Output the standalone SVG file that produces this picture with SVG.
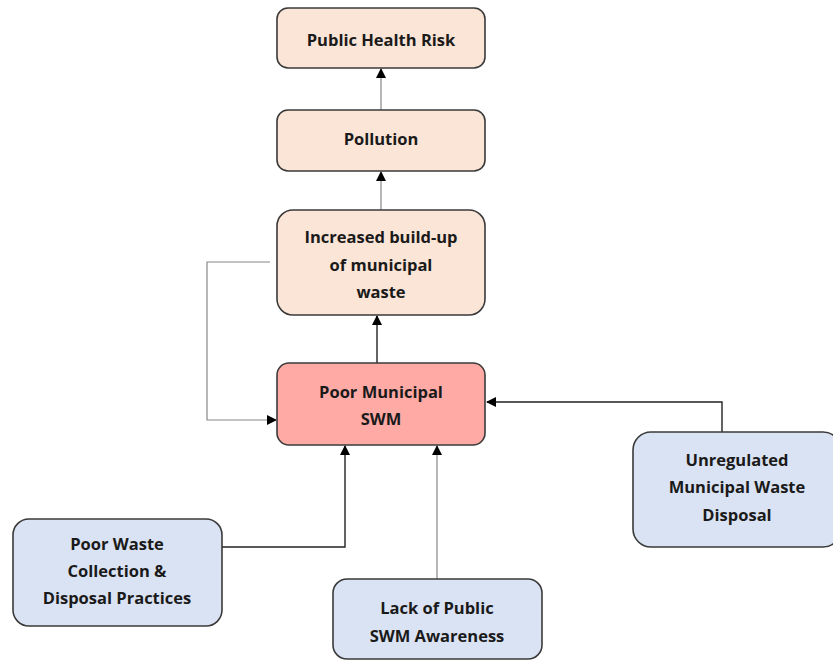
<svg xmlns="http://www.w3.org/2000/svg" width="833" height="660" viewBox="0 0 833 660">
<defs>
<marker id="arr" markerWidth="10" markerHeight="10" refX="9" refY="5" orient="auto" markerUnits="userSpaceOnUse">
<path d="M0,0 L10,5 L0,10 z" fill="#000"/>
</marker>
<style>
.box{stroke:#3a3a3a;stroke-width:1.6}
.peach{fill:#fbe5d6}
.red{fill:#ffaaa5}
.blue{fill:#dae3f3}
text{font-family:"Open Sans",Lato,"Liberation Sans",sans-serif;font-weight:bold;font-size:16.5px;fill:#1a1a1a;text-anchor:middle}
.c{fill:none;stroke:#222;stroke-width:1.4}
.g{fill:none;stroke:#888;stroke-width:1.2}
</style>
</defs>
<rect width="833" height="660" fill="#fff"/>
<g id="connectors">
<path class="g" d="M381,110 V69" marker-end="url(#arr)"/>
<path class="g" d="M381,210 V172" marker-end="url(#arr)"/>
<path class="c" d="M377,363 V316" marker-end="url(#arr)"/>
<path class="g" d="M270,262 H207 V420 H276" marker-end="url(#arr)"/>
<path class="c" d="M222,547 H345 V446" marker-end="url(#arr)"/>
<path class="g" d="M437,579 V446" marker-end="url(#arr)"/>
<path class="c" d="M722,432 V402 H487" marker-end="url(#arr)"/>
</g>
<g id="public-health-risk">
<rect class="box peach" x="277" y="8" width="208" height="60" rx="11"/>
<text x="381" y="46">Public Health Risk</text>
</g>
<g id="pollution">
<rect class="box peach" x="277" y="110" width="208" height="61" rx="11"/>
<text x="381" y="145">Pollution</text>
</g>
<g id="increased-buildup">
<rect class="box peach" x="277" y="210" width="208" height="105" rx="16"/>
<text x="381" y="243">Increased build-up</text>
<text x="381" y="271">of municipal</text>
<text x="381" y="298">waste</text>
</g>
<g id="poor-municipal-swm">
<rect class="box red" x="277" y="363" width="208" height="82" rx="12"/>
<text x="381" y="398">Poor Municipal</text>
<text x="381" y="425">SWM</text>
</g>
<g id="poor-waste-collection">
<rect class="box blue" x="13" y="519" width="209" height="107" rx="16"/>
<text x="117" y="550">Poor Waste</text>
<text x="117" y="577">Collection &amp;</text>
<text x="117" y="604">Disposal Practices</text>
</g>
<g id="lack-of-awareness">
<rect class="box blue" x="333" y="579" width="209" height="80" rx="14"/>
<text x="437" y="614">Lack of Public</text>
<text x="437" y="642">SWM Awareness</text>
</g>
<g id="unregulated-disposal">
<rect class="box blue" x="633" y="432" width="208" height="115" rx="18"/>
<text x="737" y="466">Unregulated</text>
<text x="737" y="493">Municipal Waste</text>
<text x="737" y="521">Disposal</text>
</g>
</svg>
